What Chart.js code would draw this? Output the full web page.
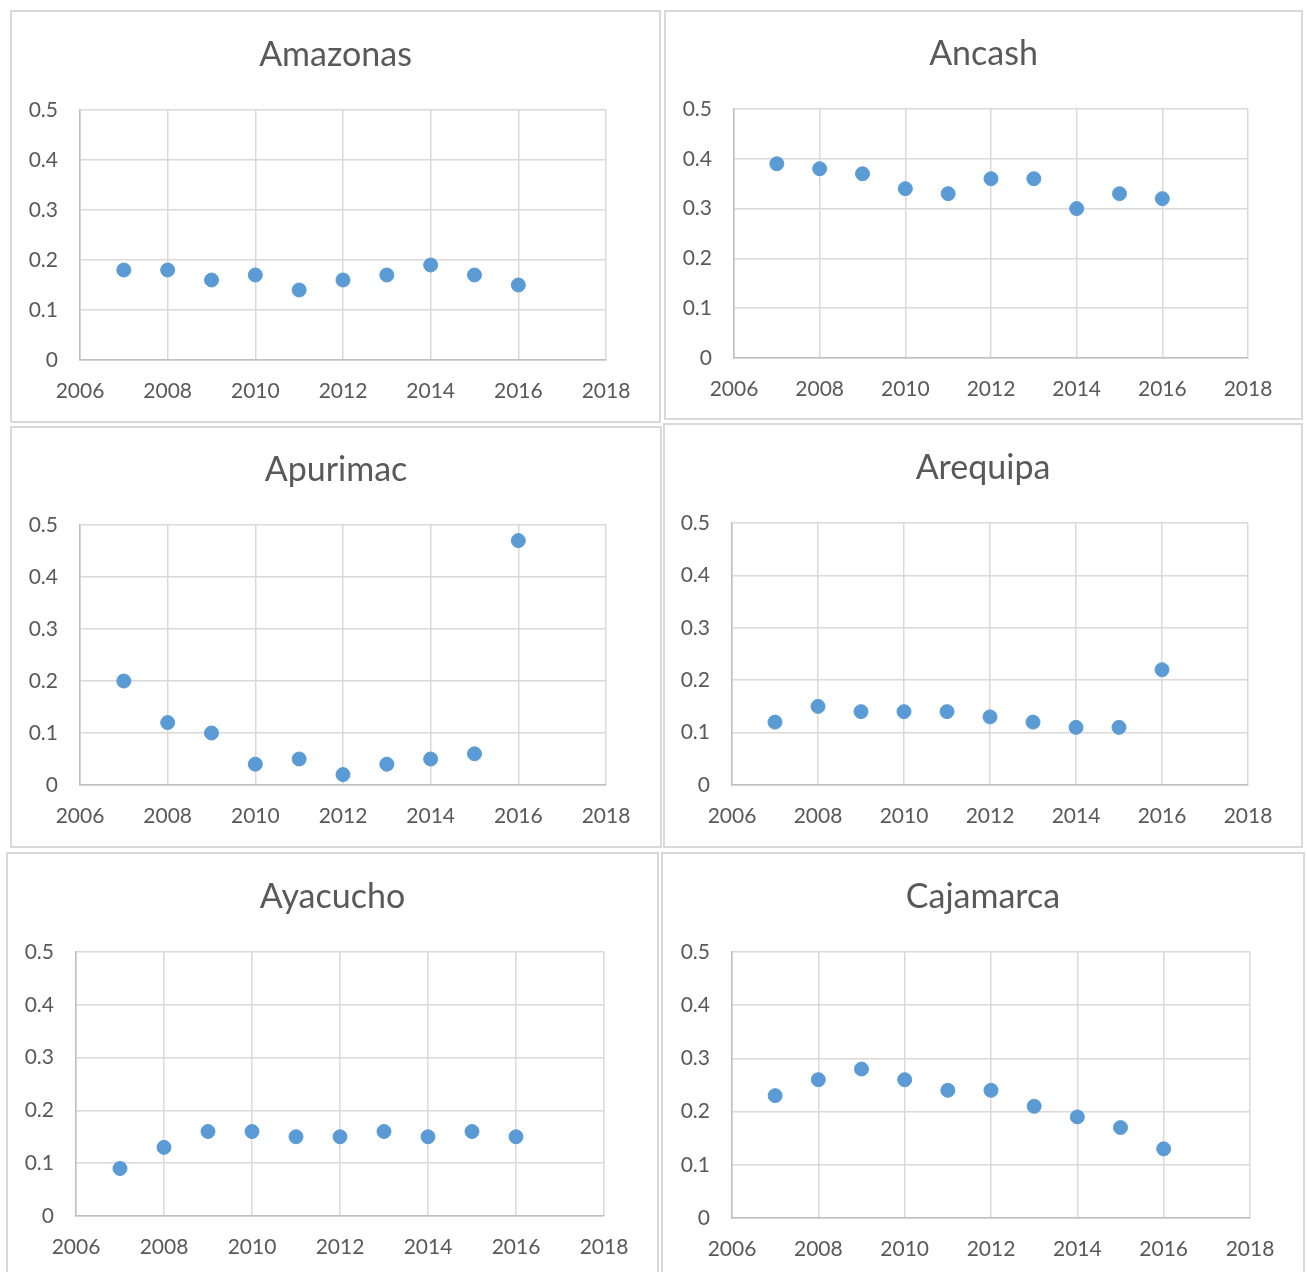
<!DOCTYPE html>
<html>
<head>
<meta charset="utf-8">
<script src="https://cdn.jsdelivr.net/npm/chart.js@4"></script>
<style>
  html, body { margin: 0; padding: 0; background: #fff; }
  body { width: 1307px; height: 1272px; position: relative; overflow: hidden; }
  .panel { position: absolute; box-sizing: border-box; border: 2px solid #d9d9d9; background: #fff; }
  .panel canvas { position: absolute; left: 0; top: 0; }
</style>
</head>
<body>
<script>
const years = [2007, 2008, 2009, 2010, 2011, 2012, 2013, 2014, 2015, 2016];
const regions = ["Amazonas", "Ancash", "Apurimac", "Arequipa", "Ayacucho", "Cajamarca"];
const amazonas  = [0.18, 0.18, 0.16, 0.17, 0.14, 0.16, 0.17, 0.19, 0.17, 0.15];
const ancash    = [0.39, 0.38, 0.37, 0.34, 0.33, 0.36, 0.36, 0.30, 0.33, 0.32];
const apurimac  = [0.20, 0.12, 0.10, 0.04, 0.05, 0.02, 0.04, 0.05, 0.06, 0.47];
const arequipa  = [0.12, 0.15, 0.14, 0.14, 0.14, 0.13, 0.12, 0.11, 0.11, 0.22];
const ayacucho  = [0.09, 0.13, 0.16, 0.16, 0.15, 0.15, 0.16, 0.15, 0.16, 0.15];
const cajamarca = [0.23, 0.26, 0.28, 0.26, 0.24, 0.24, 0.21, 0.19, 0.17, 0.13];
const seriesList = [amazonas, ancash, apurimac, arequipa, ayacucho, cajamarca];
const xMin = 2006, xMax = 2018, xStep = 2;
const yMin = 0, yMax = 0.5, yStep = 0.1;

// layout: panel box, plot area (page coords), title centre y
const layouts = [
  { box: [10, 10, 651, 413],  plot: [80, 606, 110, 360],  ty: 55 },
  { box: [664, 10, 639, 410], plot: [734, 1248, 109, 358], ty: 54 },
  { box: [10, 426, 652, 422], plot: [80, 606, 525, 785],  ty: 470 },
  { box: [663, 423, 640, 425], plot: [732, 1248, 523, 785], ty: 468 },
  { box: [6, 852, 653, 440],  plot: [76, 604, 952, 1216], ty: 897 },
  { box: [661, 852, 644, 440], plot: [732, 1250, 952, 1218], ty: 897 }
];

const FONT = "Lato, 'Open Sans', sans-serif";
const TXT = "#595959";
const B = 2;
const TITLE_SIZE = 34, TITLE_LH = 1.2;
const TICK_SIZE = 21;

regions.forEach((name, i) => {
  const L = layouts[i];
  const [bx, by, bw, bh] = L.box;
  const [pl, pr, pt, pb] = L.plot;
  const ox = bx + B, oy = by + B;
  const cw = bw - 2 * B, ch = bh - 2 * B;
  const div = document.createElement('div');
  div.className = 'panel';
  div.style.left = bx + 'px'; div.style.top = by + 'px';
  div.style.width = bw + 'px'; div.style.height = bh + 'px';
  const cv = document.createElement('canvas');
  cv.width = cw; cv.height = ch;
  cv.style.width = cw + 'px'; cv.style.height = ch + 'px';
  div.appendChild(cv);
  document.body.appendChild(div);

  const rightW = cw - (pr - ox);
  const yAxisW = pl - ox;
  const xAxisH = ch - (pb - oy);
  const th = TITLE_SIZE * TITLE_LH;
  const tPadTop = (L.ty - oy) - th / 2;
  const tPadBot = (pt - oy) - (L.ty - oy + th / 2);

  new Chart(cv, {
    type: 'scatter',
    data: {
      datasets: [{
        data: years.map((x, k) => ({ x: x, y: seriesList[i][k] })),
        backgroundColor: '#5b9bd5',
        borderColor: '#5b9bd5',
        borderWidth: 1,
        pointRadius: 7,
        pointHoverRadius: 7,
        xAxisID: 'x', yAxisID: 'y'
      }]
    },
    options: {
      responsive: false,
      animation: false,
      devicePixelRatio: 1,
      layout: { padding: 0 },
      plugins: {
        legend: { display: false },
        tooltip: { enabled: false },
        title: {
          display: true, text: name, color: TXT,
          font: { family: FONT, size: TITLE_SIZE, weight: 'normal', lineHeight: TITLE_LH },
          padding: { top: tPadTop, bottom: tPadBot }
        }
      },
      scales: {
        x: {
          type: 'linear', min: xMin, max: xMax,
          afterFit: (s) => { s.height = xAxisH; },
          ticks: { stepSize: xStep, color: TXT, padding: 19,
                   font: { family: FONT, size: TICK_SIZE },
                   callback: (v) => String(v) },
          grid: { color: '#d9d9d9', lineWidth: 1.5, drawTicks: false },
          border: { color: '#bfbfbf', width: 1.5 }
        },
        y: {
          position: 'left', min: yMin, max: yMax,
          afterFit: (s) => { s.width = yAxisW; },
          ticks: { stepSize: yStep, color: TXT, padding: 22,
                   font: { family: FONT, size: TICK_SIZE },
                   callback: (v) => (Math.round(v * 10) / 10).toString() },
          grid: { color: '#d9d9d9', lineWidth: 1.5, drawTicks: false },
          border: { color: '#bfbfbf', width: 1.5 }
        },
        spacer: {
          position: 'right', min: 0, max: 1,
          afterFit: (s) => { s.width = rightW; },
          ticks: { display: false },
          grid: { display: false, drawTicks: false },
          border: { display: false }
        }
      }
    }
  });
});
</script>
</body>
</html>
